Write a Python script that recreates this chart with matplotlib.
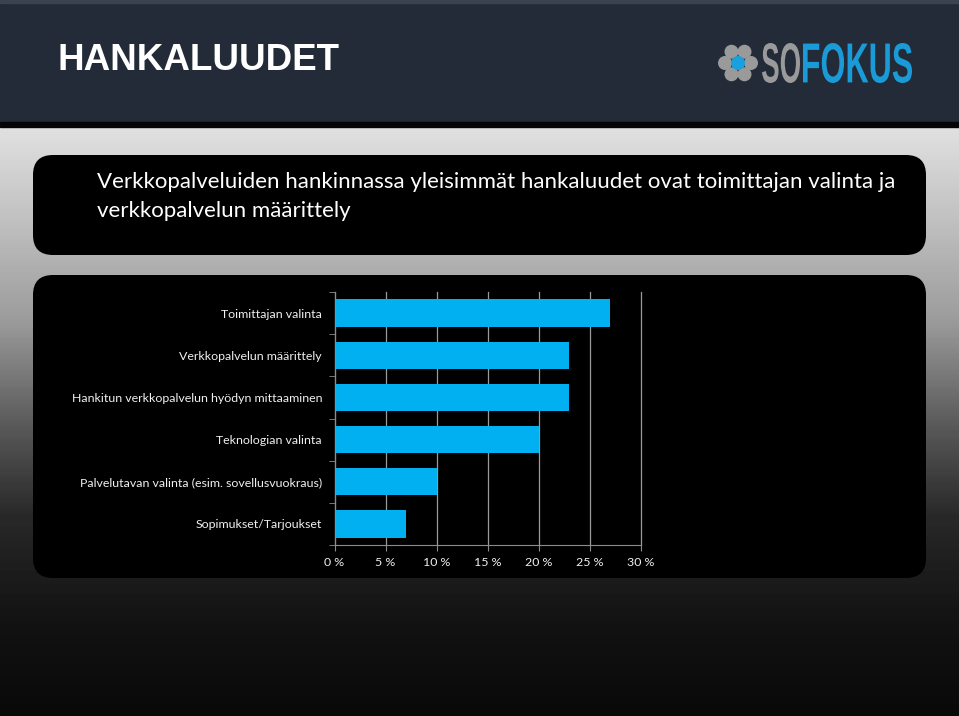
import numpy as np
import matplotlib.pyplot as plt
from matplotlib.patches import FancyBboxPatch, Rectangle, Circle, PathPatch
from matplotlib.textpath import TextPath
from matplotlib.font_manager import FontProperties
from matplotlib.transforms import Affine2D

# data
categories = ['Toimittajan valinta',
              'Verkkopalvelun määrittely',
              'Hankitun verkkopalvelun hyödyn mittaaminen',
              'Teknologian valinta',
              'Palvelutavan valinta (esim. sovellusvuokraus)',
              'Sopimukset/Tarjoukset']
values = [27, 23, 23, 20, 10, 7]
xticks = [0, 5, 10, 15, 20, 25, 30]
xtick_labels = ['0 %', '5 %', '10 %', '15 %', '20 %', '25 %', '30 %']

title = 'HANKALUUDET'
subtitle = ['Verkkopalveluiden hankinnassa yleisimmät hankaluudet ovat toimittajan valinta ja',
            'verkkopalvelun määrittely']

W, H = 959, 716
fig = plt.figure(figsize=(W / 100, H / 100), dpi=100)
fig.patch.set_facecolor('none')

# background axes in pixel coordinates
bg = fig.add_axes([0, 0, 1, 1])
bg.set_xlim(0, W)
bg.set_ylim(H, 0)
bg.axis('off')

# slide background: dark gradient that fades in (semi transparent at the top)
stop_y = [127, 225, 320, 420, 516, 616, 716]
stop_dark = [48, 44, 38, 32, 27, 18, 8]          # colour of the gradient
stop_on_white = [224, 190, 155, 92, 40, 19, 8]   # how it looks over white
yy = np.linspace(127, 716, 300)
d = np.interp(yy, stop_y, stop_dark)
w = np.interp(yy, stop_y, stop_on_white)
alpha = np.clip((255 - w) / (255 - d), 0, 1)
rgba = np.zeros((len(yy), 1, 4))
rgba[:, 0, :3] = (d / 255)[:, None]
rgba[:, 0, 3] = alpha
bg.imshow(rgba, extent=[0, W, 716, 127], aspect='auto', zorder=0, interpolation='bilinear')

# header
bg.add_patch(Rectangle((0, 0), W, 122, color='#222b37', zorder=1))
bg.add_patch(Rectangle((0, 0), W, 3, color='#3a4450', zorder=1))
bg.add_patch(Rectangle((0, 122), W, 5, color='#050505', zorder=1))
bg.text(58, 60, title, color='white', fontsize=26.5, fontweight='bold',
        family='Liberation Sans', va='center', ha='left', zorder=3)

# logo
cx, cy, r = 738, 63, 6.3
for ang in range(0, 360, 60):
    t = np.deg2rad(ang)
    bg.add_patch(Circle((cx + 13 * np.cos(t), cy + 13 * np.sin(t)), r,
                        color='#9a9a9a', zorder=3))
bg.add_patch(Circle((cx, cy), r, color='#1aa0de', zorder=3))


def logo_word(word, left, right, top, bottom, colour):
    tp = TextPath((0, 0), word, size=1, prop=FontProperties(family='Liberation Sans', weight='bold'))
    ext = tp.get_extents()
    tr = (Affine2D().translate(-ext.x0, -ext.y0)
          .scale((right - left) / ext.width, -(bottom - top) / ext.height)
          .translate(left, bottom))
    bg.add_patch(PathPatch(tp, transform=tr + bg.transData, fc=colour, ec='none', zorder=3))


logo_word('SO', 762, 800, 43, 83, '#9a9a9a')
logo_word('FOKUS', 803, 912, 43, 83, '#1a9ad6')

# boxes
bg.add_patch(FancyBboxPatch((33 + 20, 155 + 20), 893 - 40, 100 - 40,
                            boxstyle='round,pad=20', fc='black', ec='none', zorder=2))
bg.add_patch(FancyBboxPatch((33 + 20, 275 + 20), 893 - 40, 303 - 40,
                            boxstyle='round,pad=20', fc='black', ec='none', zorder=2))

bg.text(97, 182, subtitle[0], color='white', fontsize=16, family='Lato',
        va='center', ha='left', zorder=3)
bg.text(97, 211, subtitle[1], color='white', fontsize=16, family='Lato',
        va='center', ha='left', zorder=3)

# chart
ax = fig.add_axes([334.5 / W, 1 - 545 / H, (640.5 - 334.5) / W, (545 - 292) / H])
ax.set_facecolor('none')
y = np.arange(len(categories))
ax.barh(y, values, height=0.65, color='#00b0f0', zorder=2)
ax.set_ylim(len(categories) - 0.5, -0.5)
ax.set_xlim(0, 30)
ax.set_xticks(xticks)
ax.set_xticklabels(xtick_labels)
ax.set_yticks(y)
ax.set_yticklabels(categories)
ax.set_yticks(np.arange(-0.5, len(categories)), minor=True)
ax.tick_params(axis='y', which='major', length=0, pad=9)
ax.tick_params(axis='y', which='minor', length=4, color='#8c8c8c', direction='out')
ax.tick_params(axis='x', length=4, color='#8c8c8c', direction='out', pad=5)
ax.grid(axis='x', color='#9a9a9a', linewidth=0.9, zorder=0)
for gl in ax.get_xgridlines():
    gl.set_clip_on(False)
for lab in ax.get_xticklabels() + ax.get_yticklabels():
    lab.set_color('#f0f0f0')
    lab.set_fontsize(8.9)
    lab.set_family('Lato')
for s in ['top', 'right']:
    ax.spines[s].set_visible(False)
for s in ['left', 'bottom']:
    ax.spines[s].set_color('#8c8c8c')

fig.savefig('out.png', dpi=100, facecolor='none')
